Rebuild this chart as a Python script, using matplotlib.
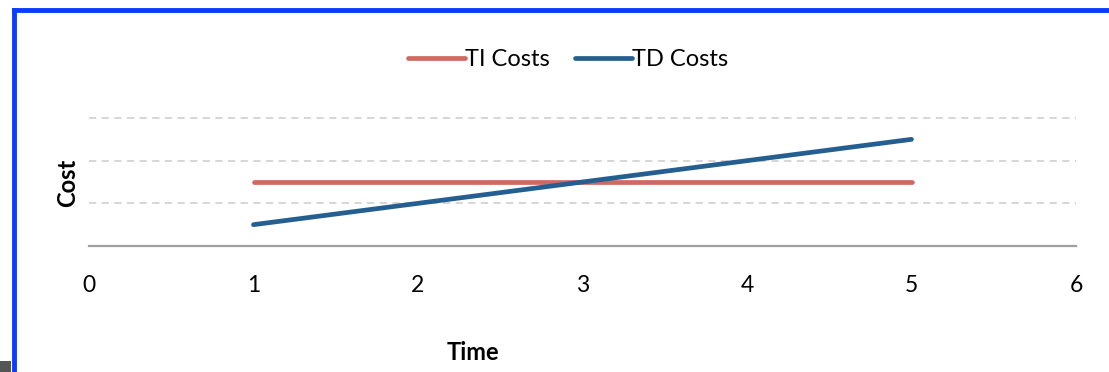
import matplotlib
matplotlib.use("Agg")
import matplotlib.pyplot as plt
from matplotlib.patches import Rectangle
from matplotlib.lines import Line2D

# ---------------------------------------------------------------------------
# Data
# ---------------------------------------------------------------------------
time_pts = [1, 2, 3, 4, 5]
ti_costs = [1.5, 1.5, 1.5, 1.5, 1.5]
td_costs = [0.5, 1.0, 1.5, 2.0, 2.5]
x_ticks  = [0, 1, 2, 3, 4, 5, 6]
grid_lvls = [1, 2, 3]

TI_COLOR = "#CF6A62"
TD_COLOR = "#255E91"
LW = 3.4

plt.rcParams["font.family"] = ["Lato", "DejaVu Sans"]

W, H = 1109, 372
fig = plt.figure(figsize=(W / 100, H / 100), dpi=100)
ax = fig.add_axes([89 / W, 1 - 246 / H, (1076 - 89) / W, (246 - 118) / H])

for g in grid_lvls:
    ax.axhline(g, color="#D3D3D3", lw=1.3, ls=(0, (4, 3)), zorder=1,
               clip_on=False)

ax.plot(time_pts, ti_costs, color=TI_COLOR, lw=LW, solid_capstyle="round",
        zorder=3, label="TI Costs")
ax.plot(time_pts, td_costs, color=TD_COLOR, lw=LW, solid_capstyle="round",
        zorder=4, label="TD Costs")

ax.set_xlim(0, 6)
ax.set_ylim(0, 3)
ax.set_xticks(x_ticks)
ax.set_yticks([])
ax.tick_params(axis="x", length=0, pad=21, labelsize=16.5)
for s in ["top", "right", "left"]:
    ax.spines[s].set_visible(False)
ax.spines["bottom"].set_color("#A0A0A0")
ax.spines["bottom"].set_linewidth(1.6)

fig.text(68 / W, 1 - 183 / H, "Cost", rotation=90, ha="center", va="center",
         fontsize=17, fontweight="bold")
fig.text(473 / W, 1 - 352 / H, "Time", ha="center", va="center",
         fontsize=17, fontweight="bold")

handles = [Line2D([], [], color=TI_COLOR, lw=LW, solid_capstyle="round"),
           Line2D([], [], color=TD_COLOR, lw=LW, solid_capstyle="round")]
fig.legend(handles, ["TI Costs", "TD Costs"], loc="center",
           bbox_to_anchor=(568 / W, 1 - 60 / H), ncol=2, frameon=False,
           fontsize=17, handlelength=2.4, handletextpad=0.0,
           columnspacing=1.1)

# frame around the chart
fig.add_artist(Line2D([13.5 / W, 13.5 / W], [0, 1 - 9.5 / H],
                      transform=fig.transFigure, color="#0A3CFF", lw=3.5,
                      solid_capstyle="projecting"))
fig.add_artist(Line2D([13.5 / W, 1], [1 - 9.5 / H, 1 - 9.5 / H],
                      transform=fig.transFigure, color="#0A3CFF", lw=3.5,
                      solid_capstyle="projecting"))
fig.add_artist(Rectangle((0, 0), 11 / W, 11 / H, transform=fig.transFigure,
                         color="#555555", lw=0))

fig.savefig("out.png", dpi=100)
